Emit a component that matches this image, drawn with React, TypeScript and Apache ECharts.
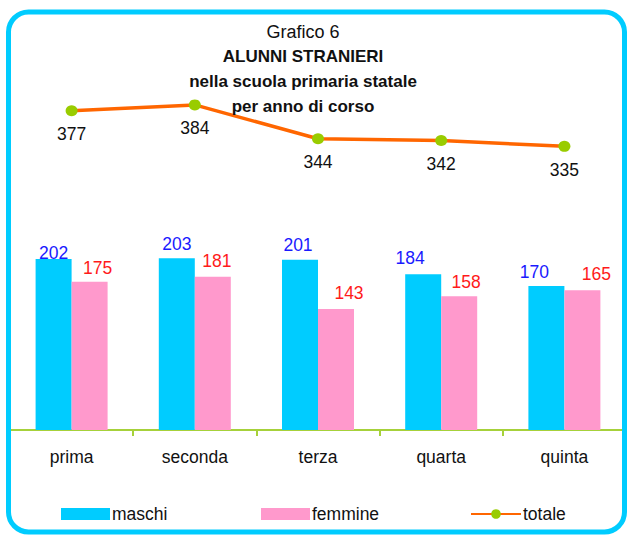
import React, { useEffect, useRef } from "react";
import * as echarts from "echarts";

const categories = ["prima", "seconda", "terza", "quarta", "quinta"];
const maschi = [202, 203, 201, 184, 170];
const femmine = [175, 181, 143, 158, 165];
const totale = [377, 384, 344, 342, 335];

// label nudges (layout only)
const maschiLabelShift = [[0, 9], [0, 1], [-2, 0], [-13, -1], [-12, 1]];
const femmineLabelShift = [[8, 1], [4, -1], [13, -1], [7, 1], [14, -1]];

const FONT = "'Liberation Sans', Arial, sans-serif";
const FS = 17.5;

export default function App() {
  const ref = useRef<HTMLDivElement>(null);
  useEffect(() => {
    if (!ref.current) return;
    const chart = echarts.init(ref.current, null, { renderer: "svg" });
    const legendText = { fontSize: FS, color: "#111", fontFamily: FONT, padding: [0, 0, 0, -3] };
    chart.setOption({
      animation: false,
      backgroundColor: "#ffffff",
      textStyle: { fontFamily: FONT },
      title: {
        left: 298,
        top: 14,
        textAlign: "center",
        text:
          "{a|Grafico 6}\n{b|ALUNNI STRANIERI}\n{b|nella scuola primaria statale}\n{b|per anno di corso}",
        textStyle: {
          fontFamily: FONT,
          rich: {
            a: { fontSize: 18, fontWeight: "normal", color: "#111", lineHeight: 25, fontFamily: FONT },
            b: { fontSize: 17, fontWeight: "bold", color: "#111", lineHeight: 25, fontFamily: FONT },
          },
        },
      },
      legend: [
        {
          left: 56, top: 500, itemWidth: 49, itemHeight: 12, itemGap: 0,
          data: [{ name: "maschi", icon: "rect" }],
          textStyle: legendText,
        },
        {
          left: 256, top: 500, itemWidth: 49, itemHeight: 12, itemGap: 0,
          data: [{ name: "femmine", icon: "rect" }],
          textStyle: legendText,
        },
        {
          left: 465, top: 500, itemWidth: 50, itemHeight: 12, itemGap: 0,
          data: ["totale"],
          textStyle: legendText,
        },
      ],
      grid: { left: 10, right: 1, top: 49, bottom: 105, containLabel: false },
      xAxis: {
        type: "category",
        data: categories,
        boundaryGap: true,
        axisLine: { lineStyle: { color: "#a6d13a", width: 2 } },
        axisTick: { show: true, length: 6, lineStyle: { color: "#a6d13a", width: 2 } },
        axisLabel: { fontSize: FS, color: "#111", margin: 18, fontFamily: FONT },
      },
      yAxis: {
        type: "value",
        min: 0,
        max: 450,
        show: false,
        splitLine: { show: false },
      },
      series: [
        {
          name: "maschi",
          type: "bar",
          barWidth: 36,
          barGap: "0%",
          itemStyle: { color: "#00ccff" },
          data: maschi.map((v, i) => ({
            value: v,
            label: { offset: maschiLabelShift[i] },
          })),
          label: {
            show: true,
            position: "top",
            distance: 6,
            fontSize: FS,
            color: "#1a1aff",
            fontFamily: FONT,
          },
        },
        {
          name: "femmine",
          type: "bar",
          barWidth: 36,
          barGap: "0%",
          itemStyle: { color: "#ff99cc" },
          data: femmine.map((v, i) => ({
            value: v,
            label: { offset: femmineLabelShift[i] },
          })),
          label: {
            show: true,
            position: "top",
            distance: 6,
            fontSize: FS,
            color: "#ff1a1a",
            fontFamily: FONT,
          },
        },
        {
          name: "totale",
          type: "line",
          data: totale,
          z: 5,
          symbol: "circle",
          symbolSize: [12, 11],
          lineStyle: { color: "#ff6600", width: 3.5 },
          itemStyle: { color: "#99cc00" },
          label: {
            show: true,
            position: "bottom",
            distance: 9,
            fontSize: FS,
            color: "#111",
            fontFamily: FONT,
          },
        },
      ],
      graphic: [
        {
          type: "rect",
          shape: { x: 8.5, y: 12, width: 616, height: 520, r: 20 },
          style: { fill: "none", stroke: "#00ccff", lineWidth: 5 },
          silent: true,
          z: 100,
        },
      ],
    });
    return () => chart.dispose();
  }, []);
  return (
    <div
      ref={ref}
      style={{ position: "fixed", left: 0, top: 0, width: 627, height: 535 }}
    />
  );
}
